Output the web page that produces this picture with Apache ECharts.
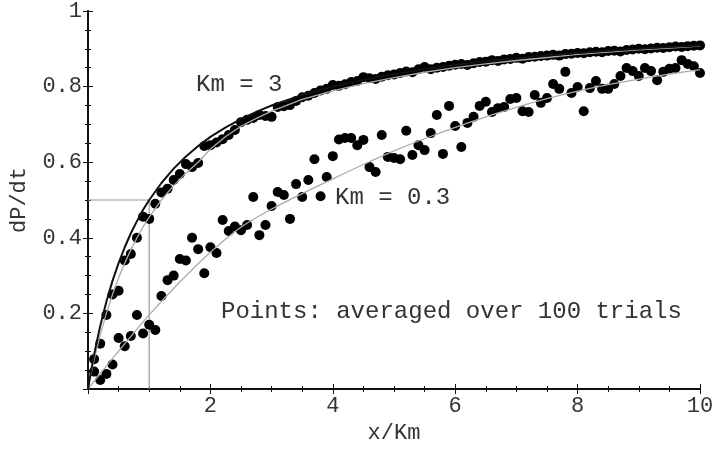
<!DOCTYPE html>
<html>
<head>
<meta charset="utf-8">
<script src="https://cdn.jsdelivr.net/npm/echarts@6/dist/echarts.min.js"></script>
<style>
  html, body { margin: 0; padding: 0; background: #fff; }
  #chart { width: 720px; height: 451px; }
</style>
</head>
<body>
<div id="chart"></div>
<script>
// sample positions of the averaged points (x/Km)
var xGrid = [
  0.1, 0.2, 0.3, 0.4, 0.5, 0.6, 0.7, 0.8, 0.9, 1.0,
  1.1, 1.2, 1.3, 1.4, 1.5, 1.6, 1.7, 1.8, 1.9, 2.0,
  2.1, 2.2, 2.3, 2.4, 2.5, 2.6, 2.7, 2.8, 2.9, 3.0,
  3.1, 3.2, 3.3, 3.4, 3.5, 3.6, 3.7, 3.8, 3.9, 4.0,
  4.1, 4.2, 4.3, 4.4, 4.5, 4.6, 4.7, 4.8, 4.9, 5.0,
  5.1, 5.2, 5.3, 5.4, 5.5, 5.6, 5.7, 5.8, 5.9, 6.0,
  6.1, 6.2, 6.3, 6.4, 6.5, 6.6, 6.7, 6.8, 6.9, 7.0,
  7.1, 7.2, 7.3, 7.4, 7.5, 7.6, 7.7, 7.8, 7.9, 8.0,
  8.1, 8.2, 8.3, 8.4, 8.5, 8.6, 8.7, 8.8, 8.9, 9.0,
  9.1, 9.2, 9.3, 9.4, 9.5, 9.6, 9.7, 9.8, 9.9, 10.0
];

// points, Km = 3
var dotsKm3 = [
  0.079, 0.12, 0.196, 0.25, 0.26, 0.34, 0.357, 0.40, 0.456, 0.45,
  0.49, 0.52, 0.53, 0.553, 0.569, 0.595, 0.587, 0.598, 0.643, 0.645,
  0.652, 0.661, 0.672, 0.685, 0.706, 0.712, 0.717, 0.725, 0.722, 0.72,
  0.746, 0.748, 0.751, 0.762, 0.772, 0.776, 0.783, 0.79, 0.794, 0.804,
  0.802, 0.806, 0.812, 0.815, 0.825, 0.822, 0.82, 0.826, 0.83, 0.832,
  0.836, 0.84, 0.838, 0.846, 0.852, 0.846, 0.85, 0.852, 0.855, 0.858,
  0.86, 0.857, 0.862, 0.865, 0.866, 0.87, 0.868, 0.872, 0.873, 0.876,
  0.874, 0.878, 0.879, 0.881, 0.882, 0.884, 0.882, 0.886, 0.887, 0.889,
  0.888, 0.891, 0.892, 0.891, 0.894, 0.895, 0.893, 0.897, 0.898, 0.9,
  0.899, 0.901, 0.903, 0.902, 0.904, 0.906, 0.905, 0.907, 0.908, 0.909
];

// points, Km = 0.3
var dotsKm03 = [
  0.046, 0.024, 0.04, 0.065, 0.135, 0.113, 0.14, 0.196, 0.147, 0.17,
  0.156, 0.246, 0.288, 0.30, 0.344, 0.34, 0.40, 0.37, 0.306, 0.375,
  0.36, 0.447, 0.418, 0.43, 0.42, 0.434, 0.508, 0.407, 0.434, 0.484,
  0.521, 0.513, 0.45, 0.542, 0.508, 0.553, 0.608, 0.51, 0.561, 0.616,
  0.66, 0.664, 0.664, 0.645, 0.659, 0.587, 0.574, 0.672, 0.614, 0.611,
  0.608, 0.683, 0.619, 0.645, 0.632, 0.677, 0.725, 0.622, 0.749, 0.696,
  0.64, 0.704, 0.72, 0.749, 0.76, 0.733, 0.743, 0.746, 0.767, 0.77,
  0.735, 0.733, 0.778, 0.757, 0.77, 0.807, 0.794, 0.839, 0.783, 0.799,
  0.735, 0.796, 0.815, 0.794, 0.794, 0.807, 0.828, 0.849, 0.841, 0.828,
  0.849, 0.841, 0.817, 0.839, 0.847, 0.849, 0.87, 0.86, 0.854, 0.836
];

// curves for Km = 3 (black theory, gray fit)
var curveX = [
  0, 0.05, 0.1, 0.15, 0.2, 0.3, 0.4, 0.5, 0.6, 0.7, 0.8, 0.9, 1.0,
  1.2, 1.4, 1.6, 1.8, 2.0, 2.25, 2.5, 2.75, 3, 3.5, 4, 4.5, 5,
  5.5, 6, 6.5, 7, 7.5, 8, 8.5, 9, 9.5, 10
];
var theoryKm3 = [
  0, 0.048, 0.091, 0.130, 0.167, 0.231, 0.286, 0.333, 0.375, 0.412, 0.444, 0.474, 0.5,
  0.545, 0.583, 0.615, 0.643, 0.667, 0.692, 0.714, 0.733, 0.75, 0.778, 0.8, 0.818, 0.833,
  0.846, 0.857, 0.867, 0.875, 0.882, 0.889, 0.895, 0.9, 0.905, 0.909
];
var fitKm3 = [
  0, 0.04, 0.077, 0.111, 0.143, 0.20, 0.25, 0.294, 0.333, 0.368, 0.40, 0.429, 0.455,
  0.50, 0.538, 0.571, 0.60, 0.635, 0.668, 0.695, 0.716, 0.735, 0.766, 0.789, 0.808, 0.824,
  0.838, 0.85, 0.86, 0.869, 0.877, 0.885, 0.891, 0.897, 0.902, 0.907
];

// gray fit for Km = 0.3
var fitX03 = [0, 0.5, 1, 1.5, 2, 2.5, 3, 3.5, 4, 4.5, 5, 5.5, 6, 6.5, 7, 7.5, 8, 8.5, 9, 9.5, 10];
var fitKm03 = [0, 0.10, 0.196, 0.283, 0.362, 0.428, 0.476, 0.517, 0.556, 0.594, 0.63, 0.662, 0.692, 0.72, 0.745, 0.768, 0.788, 0.805, 0.82, 0.833, 0.845];

// half-saturation guide lines
var guideX = [0, 1, 1];
var guideY = [0.5, 0.5, 0];

var xTicks = ['', '2', '4', '6', '8', '10'];
var yTicks = ['', '0.2', '0.4', '0.6', '0.8', '1'];

function pairs(xs, ys) {
  return xs.map(function (x, i) { return [x, ys[i]]; });
}

var FONT = 'Liberation Mono';
var TXT = '#333';

var frame = { show: true, lineStyle: { color: '#111', width: 2 } };
var ticks = { show: true, inside: true, length: 5, lineStyle: { color: '#111', width: 1 } };
var minor = { show: true, splitNumber: 4, length: 3, lineStyle: { color: '#111', width: 1 } };

var chart = echarts.init(document.getElementById('chart'));
chart.setOption({
  animation: false,
  backgroundColor: '#fff',
  grid: { left: 88, right: 20, top: 11, bottom: 62, containLabel: false },
  xAxis: [{
    type: 'value', min: 0, max: 10, interval: 2, position: 'bottom',
    name: 'x/Km', nameLocation: 'middle', nameGap: 30,
    nameTextStyle: { fontFamily: FONT, fontSize: 22, color: TXT },
    axisLine: frame, axisTick: ticks, minorTick: minor,
    splitLine: { show: false },
    axisLabel: {
      margin: 6, fontFamily: FONT, fontSize: 22, color: TXT,
      formatter: function (v) { return xTicks[Math.round(v / 2)]; }
    }
  }, {
    type: 'value', min: 0, max: 10, interval: 2, position: 'top',
    axisLine: frame, axisTick: ticks, minorTick: minor,
    splitLine: { show: false }, axisLabel: { show: false }
  }],
  yAxis: [{
    type: 'value', min: 0, max: 1, interval: 0.2, position: 'left',
    name: 'dP/dt', nameLocation: 'middle', nameGap: 58, nameRotate: 90,
    nameTextStyle: { fontFamily: FONT, fontSize: 22, color: TXT },
    axisLine: frame, axisTick: ticks, minorTick: minor,
    splitLine: { show: false },
    axisLabel: {
      margin: 6, fontFamily: FONT, fontSize: 22, color: TXT,
      formatter: function (v) { return yTicks[Math.round(v * 5)]; }
    }
  }, {
    type: 'value', min: 0, max: 1, interval: 0.2, position: 'right',
    axisLine: frame, axisTick: ticks, minorTick: minor,
    splitLine: { show: false }, axisLabel: { show: false }
  }],
  series: [
    {
      type: 'scatter', name: 'Km = 3 points', z: 2,
      data: pairs(xGrid, dotsKm3), symbolSize: 10,
      itemStyle: { color: '#000', opacity: 1 }
    },
    {
      type: 'scatter', name: 'Km = 0.3 points', z: 2,
      data: pairs(xGrid, dotsKm03), symbolSize: 10,
      itemStyle: { color: '#000', opacity: 1 }
    },
    {
      type: 'line', name: 'guide', z: 1, showSymbol: false,
      data: pairs(guideX, guideY),
      lineStyle: { color: '#999', width: 1.2 }
    },
    {
      type: 'line', name: 'Km = 3 fit', z: 4, showSymbol: false,
      data: pairs(curveX, fitKm3),
      lineStyle: { color: '#aaa', width: 1.3 }
    },
    {
      type: 'line', name: 'Km = 3 theory', z: 5, showSymbol: false,
      data: pairs(curveX, theoryKm3),
      lineStyle: { color: '#111', width: 2 }
    },
    {
      type: 'line', name: 'Km = 0.3 fit', z: 4, showSymbol: false,
      smooth: 0.3,
      data: pairs(fitX03, fitKm03),
      lineStyle: { color: '#aaa', width: 1.3 }
    }
  ],
  graphic: [
    { type: 'text', left: 196, top: 73, style: { text: 'Km = 3', fontFamily: FONT, fontSize: 24, fill: TXT } },
    { type: 'text', left: 335, top: 186, style: { text: 'Km = 0.3', fontFamily: FONT, fontSize: 24, fill: TXT } },
    { type: 'text', left: 221, top: 300, style: { text: 'Points: averaged over 100 trials', fontFamily: FONT, fontSize: 24, fill: TXT } }
  ]
});
</script>
</body>
</html>
